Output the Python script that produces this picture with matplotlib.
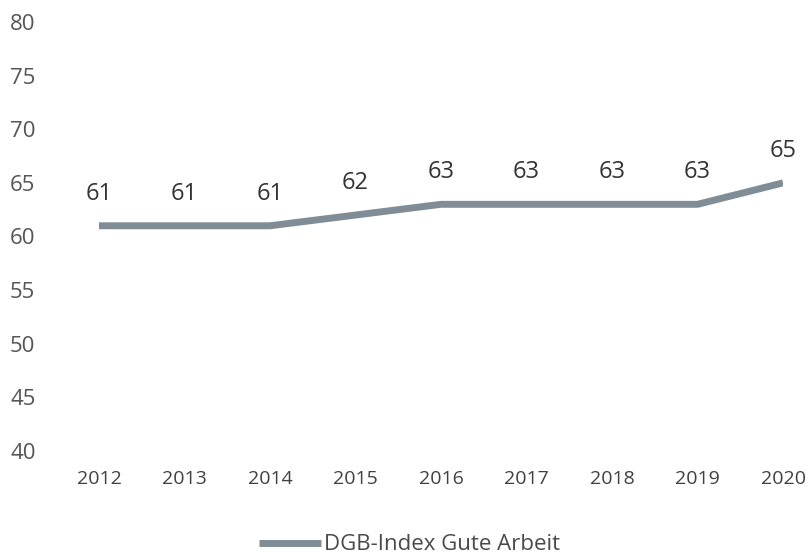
import numpy as np
import matplotlib.pyplot as plt
from matplotlib import font_manager

# Data
years = [2012, 2013, 2014, 2015, 2016, 2017, 2018, 2019, 2020]
index_values = [61, 61, 61, 62, 63, 63, 63, 63, 65]
series_name = "DGB-Index Gute Arbeit"

names = {f.name for f in font_manager.fontManager.ttflist}
fam = 'Liberation Sans Narrow' if 'Liberation Sans Narrow' in names else 'Open Sans'
plt.rcParams['font.family'] = [fam, 'DejaVu Sans']

line_color = '#808d97'
text_color = '#4a4a4a'

fig = plt.figure(figsize=(8.11, 5.56), dpi=100)
ax = fig.add_axes([99 / 811, 1 - 451 / 556, (783 - 99) / 811, (451 - 22) / 556])

ax.plot(years, index_values, color=line_color, linewidth=5, solid_capstyle='butt',
        label=series_name)

for x, v in zip(years, index_values):
    ax.annotate(str(v), (x, v), xytext=(0, 23), textcoords='offset points',
                ha='center', va='center', fontsize=17, color='#333333')

ax.set_xlim(2012, 2020)
ax.set_ylim(40, 80)
ax.set_yticks(np.arange(40, 81, 5))
ax.set_xticks(years)
ax.set_xticklabels([str(y) for y in years])
ax.tick_params(axis='both', length=0)
ax.tick_params(axis='y', labelsize=16, labelcolor='#555555', pad=64)
ax.tick_params(axis='x', labelsize=14, labelcolor='#404040', pad=14)
for lbl in ax.get_yticklabels():
    lbl.set_horizontalalignment('left')
for s in ax.spines.values():
    s.set_visible(False)

leg = fig.legend(loc='lower center', bbox_to_anchor=(0.505, -0.035), frameon=False,
                 fontsize=16, handlelength=2.8, handletextpad=0.15)
for t in leg.get_texts():
    t.set_color(text_color)

fig.savefig('out.png', dpi=100)
